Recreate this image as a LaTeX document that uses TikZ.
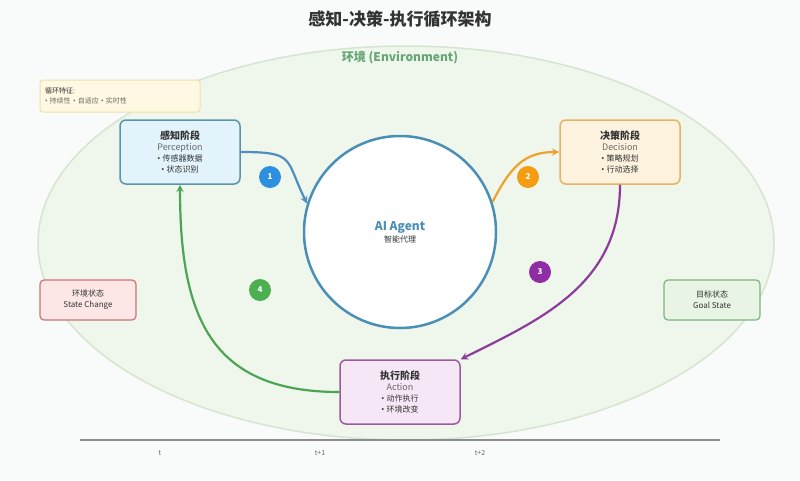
\documentclass[tikz,border=0pt]{standalone}
\usepackage{xcolor}
\usepackage{fontspec}
\setmainfont{Noto Sans CJK SC}
\newfontfamily\bulletfont{Noto Sans}
\usepackage{tikz}

\definecolor{bgcol}{HTML}{F9FAFA}
\definecolor{envfill}{HTML}{EFF6EC}
\definecolor{envline}{HTML}{D5E5D0}
\definecolor{envtext}{HTML}{66A676}
\definecolor{agentcol}{HTML}{4A8FB5}
\definecolor{perccol}{HTML}{5A93AD}
\definecolor{percfill}{HTML}{E2F3FB}
\definecolor{deccol}{HTML}{E8B163}
\definecolor{decfill}{HTML}{FDF2DE}
\definecolor{actcol}{HTML}{9A5C9C}
\definecolor{actfill}{HTML}{F5E7F5}
\definecolor{statecol}{HTML}{CC7474}
\definecolor{statefill}{HTML}{FCE6E6}
\definecolor{goalcol}{HTML}{7DB47E}
\definecolor{goalfill}{HTML}{E8F4E4}
\definecolor{notecol}{HTML}{EFDFA8}
\definecolor{notefill}{HTML}{FFF8E2}
\definecolor{bluearr}{HTML}{4F8EC0}
\definecolor{orangearr}{HTML}{F0A02C}
\definecolor{purplearr}{HTML}{8C3C9A}
\definecolor{greenarr}{HTML}{4BA553}
\definecolor{badgeblue}{HTML}{2D8FE0}
\definecolor{badgeorange}{HTML}{F49C12}
\definecolor{badgepurple}{HTML}{8E2DA4}
\definecolor{badgegreen}{HTML}{4CAF50}
\definecolor{txtdark}{HTML}{333333}
\definecolor{txtgray}{HTML}{6A6A6A}

\tikzset{
  phase/.style={draw,rectangle,rounded corners=6pt,line width=1.5pt,
    minimum width=120pt,minimum height=64pt,align=center,text=txtdark,
    font=\fontsize{8}{11}\selectfont},
  sidebox/.style={draw,rectangle,rounded corners=4pt,line width=1.2pt,
    minimum width=96pt,minimum height=40pt,align=center,text=txtdark,
    font=\fontsize{8}{11}\selectfont},
  badge/.style={circle,minimum size=22pt,inner sep=0pt,text=white,
    font=\fontsize{8}{8}\selectfont\bfseries},
  flow/.style={->,>=stealth,line width=2.2pt},
  ticklabel/.style={text=txtgray,font=\fontsize{7}{7}\selectfont}
}

\newcommand{\bul}{{\bulletfont •}\hspace{0.3em}}
\newcommand{\phasetext}[4]{{\fontsize{10}{14}\selectfont\bfseries #1}\\
  {\fontsize{9}{13}\selectfont\color{txtgray}#2}\\ \bul{}#3\\ \bul{}#4}

\begin{document}
\begin{tikzpicture}[x=1pt,y=-1pt]
\useasboundingbox (0,0) rectangle (800,480);
\fill[bgcol] (0,0) rectangle (800,480);

% environment
\draw[envline,fill=envfill,line width=1.5pt] (406,243) ellipse [x radius=368,y radius=197];
\node[text=envtext,font=\fontsize{12}{12}\selectfont\bfseries] (envlabel) at (400,58) {环境 (Environment)};
\node[text=txtdark,font=\fontsize{17}{17}\selectfont\bfseries] (title) at (400,19) {感知-决策-执行循环架构};

% loop note
\node[draw=notecol,fill=notefill,rectangle,rounded corners=3pt,line width=1pt,
  minimum width=160pt,minimum height=32pt,text width=150pt,align=left,
  font=\fontsize{7}{10}\selectfont] (note) at (120,96)
  {\textcolor{txtdark}{循环特征:}\\ \textcolor{txtgray}{\bul{}持续性 \bul{}自适应 \bul{}实时性}};

% agent
\node[draw=agentcol,fill=white,circle,line width=2.5pt,minimum size=192pt,align=center] (agent) at (400,232)
  {{\fontsize{12}{16}\selectfont\bfseries\color{agentcol}AI Agent}\\ {\fontsize{8}{10}\selectfont\color{txtdark}智能代理}};

% phases
\node[phase,draw=perccol,fill=percfill] (perc) at (180,152) {\phasetext{感知阶段}{Perception}{传感器数据}{状态识别}};
\node[phase,draw=deccol,fill=decfill] (dec) at (620,152) {\phasetext{决策阶段}{Decision}{策略规划}{行动选择}};
\node[phase,draw=actcol,fill=actfill] (act) at (400,392) {\phasetext{执行阶段}{Action}{动作执行}{环境改变}};

% side states
\node[sidebox,draw=statecol,fill=statefill] (state) at (88,300) {环境状态\\ State Change};
\node[sidebox,draw=goalcol,fill=goalfill] (goal) at (712,300) {目标状态\\ Goal State};

% cycle
\draw[flow,bluearr] (perc.east) .. controls +(55,0) and +(-22,-45) .. (agent.163);
\draw[flow,orangearr] (agent.18) .. controls +(18,-35) and +(-35,0) .. (dec.west);
\draw[flow,purplearr] (dec.south) .. controls +(0,100) and +(80,-40) .. (act.north east);
\draw[flow,greenarr] (act.west) .. controls +(-130,0) and +(0,130) .. (perc.south);

\node[badge,fill=badgeblue] (b1) at (270,177) {1};
\node[badge,fill=badgeorange] (b2) at (528,177) {2};
\node[badge,fill=badgepurple] (b3) at (540,272) {3};
\node[badge,fill=badgegreen] (b4) at (260,290) {4};

% time axis
\coordinate (t0) at (80,440);
\coordinate (t1) at (720,440);
\draw[gray!90,line width=1.5pt] (t0) -- (t1);
\node[ticklabel] (lt) at (160,453) {t};
\node[ticklabel] (lt1) at (320,453) {t+1};
\node[ticklabel] (lt2) at (480,453) {t+2};
\end{tikzpicture}
\end{document}
